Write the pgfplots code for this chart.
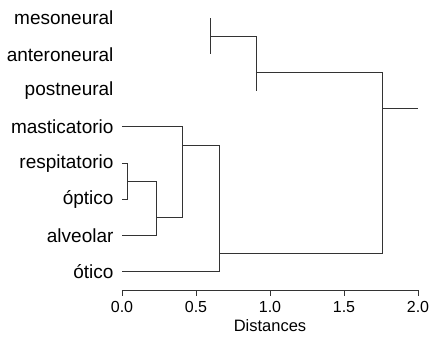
\documentclass[border=0pt]{standalone}
\usepackage{fontspec}
\setmainfont{Liberation Sans}
\usepackage{pgfplots}
\pgfplotsset{compat=1.18}
\begin{document}
\begin{tikzpicture}
\useasboundingbox (-122pt,-54pt) rectangle (311pt,290pt);
\begin{axis}[
  at={(0,0)}, anchor=south west,
  scale only axis,
  width=296pt, height=290pt,
  xmin=0, xmax=2, ymin=-0.5, ymax=7.5,
  clip=false,
  axis x line*=bottom, axis y line*=left,
  x axis line style={-, black!80, line width=0.7pt},
  y axis line style={draw=none},
  ytick={0,1,2,3,4,5,6,7},
  yticklabels={ótico,alveolar,óptico,respitatorio,masticatorio,postneural,anteroneural,mesoneural},
  ytick style={draw=none},
  yticklabel style={font=\fontsize{19}{22}\selectfont, anchor=east, xshift=1pt},
  xtick={0,0.5,1,1.5,2},
  xticklabel style={font=\fontsize{16}{19}\selectfont, yshift=-2pt, /pgf/number format/fixed, /pgf/number format/fixed zerofill, /pgf/number format/precision=1, /pgf/number format/assume math mode=true},
  xtick style={black!80, line width=0.7pt},
  tick align=outside,
  major tick length=6pt,
  xlabel={Distances},
  xlabel style={font=\fontsize{16.5}{19}\selectfont, yshift=0pt},
  dl/.style={black!80, line width=0.8pt, mark=none, solid},
]
\addplot[dl] coordinates {(0.595,7) (0.595,6)};
\addplot[dl] coordinates {(0.595,6.5) (0.905,6.5)};
\addplot[dl] coordinates {(0.905,6.5) (0.905,5)};
\addplot[dl] coordinates {(0.905,5.5) (1.757,5.5) (1.757,0.5) (0.655,0.5)};
\addplot[dl] coordinates {(1.757,4.5) (2,4.5)};
\addplot[dl] coordinates {(0,4) (0.41,4) (0.41,1.5) (0.23,1.5)};
\addplot[dl] coordinates {(0.41,3.5) (0.655,3.5) (0.655,0) (0,0)};
\addplot[dl] coordinates {(0,3) (0.034,3) (0.034,2) (0,2)};
\addplot[dl] coordinates {(0.034,2.5) (0.23,2.5) (0.23,1) (0,1)};
\end{axis}
\end{tikzpicture}
\end{document}
